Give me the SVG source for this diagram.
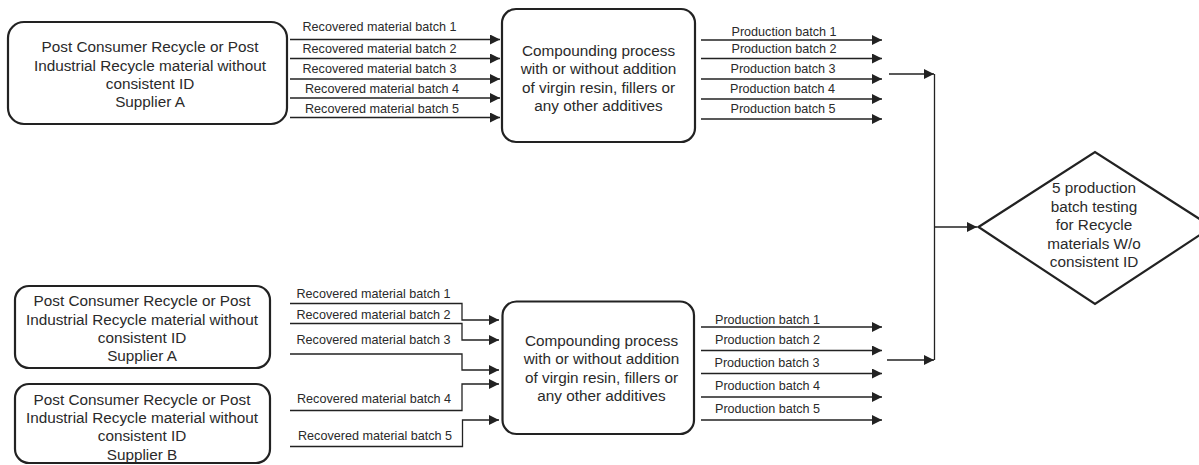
<svg xmlns="http://www.w3.org/2000/svg" width="1199" height="465" viewBox="0 0 1199 465">
<style>
.box{fill:#fff;stroke:#222;stroke-width:2.2}
.t{font-family:"Liberation Sans",Arial,sans-serif;font-size:15.3px;fill:#2a2a2a;text-anchor:middle}
.l{font-family:"Liberation Sans",Arial,sans-serif;font-size:12.6px;fill:#2a2a2a}
.c{fill:none;stroke:#222;stroke-width:1.3}
</style>
<defs>
<marker id="ah" viewBox="0 0 10 10" refX="10" refY="5" markerWidth="11" markerHeight="10" markerUnits="userSpaceOnUse" orient="auto">
<path d="M0,0 L10,5 L0,10 z" fill="#222"/>
</marker>
</defs>
<rect width="1199" height="465" fill="#fff"/>
<g id="connectors">
<line class="c" x1="290" y1="39.5" x2="500" y2="39.5" marker-end="url(#ah)"/>
<line class="c" x1="290" y1="58.5" x2="500" y2="58.5" marker-end="url(#ah)"/>
<line class="c" x1="290" y1="79" x2="500" y2="79" marker-end="url(#ah)"/>
<line class="c" x1="290" y1="98" x2="500" y2="98" marker-end="url(#ah)"/>
<line class="c" x1="290" y1="117.5" x2="500" y2="117.5" marker-end="url(#ah)"/>
<line class="c" x1="701" y1="40" x2="882" y2="40" marker-end="url(#ah)"/>
<line class="c" x1="701" y1="58.5" x2="882" y2="58.5" marker-end="url(#ah)"/>
<line class="c" x1="701" y1="79" x2="882" y2="79" marker-end="url(#ah)"/>
<line class="c" x1="701" y1="99" x2="882" y2="99" marker-end="url(#ah)"/>
<line class="c" x1="701" y1="119" x2="882" y2="119" marker-end="url(#ah)"/>
<polyline class="c" points="290,303.5 462,303.5 462,320 499,320" marker-end="url(#ah)"/>
<polyline class="c" points="290,323.5 462,323.5 462,340 499,340" marker-end="url(#ah)"/>
<polyline class="c" points="290,354 462,354 462,370 499,370" marker-end="url(#ah)"/>
<polyline class="c" points="290,410.5 462,410.5 462,384 499,384" marker-end="url(#ah)"/>
<polyline class="c" points="290,446.5 462.5,446.5 462.5,420 499,420" marker-end="url(#ah)"/>
<line class="c" x1="701" y1="327" x2="882" y2="327" marker-end="url(#ah)"/>
<line class="c" x1="701" y1="350.5" x2="882" y2="350.5" marker-end="url(#ah)"/>
<line class="c" x1="701" y1="373.5" x2="882" y2="373.5" marker-end="url(#ah)"/>
<line class="c" x1="701" y1="397" x2="882" y2="397" marker-end="url(#ah)"/>
<line class="c" x1="701" y1="420" x2="882" y2="420" marker-end="url(#ah)"/>
<line class="c" x1="889" y1="74" x2="934" y2="74" marker-end="url(#ah)"/>
<line class="c" x1="887" y1="360" x2="934" y2="360" marker-end="url(#ah)"/>
<line class="c" x1="934.5" y1="74" x2="934.5" y2="360"/>
<line class="c" x1="934.5" y1="227" x2="977" y2="227" marker-end="url(#ah)"/>
<text class="l" x="302.5" y="31">Recovered material batch 1</text>
<text class="l" x="302.5" y="52.5">Recovered material batch 2</text>
<text class="l" x="302.5" y="72.5">Recovered material batch 3</text>
<text class="l" x="305" y="92.5">Recovered material batch 4</text>
<text class="l" x="305" y="112.5">Recovered material batch 5</text>
<text class="l" x="731.5" y="35.5">Production batch 1</text>
<text class="l" x="731.5" y="52.5">Production batch 2</text>
<text class="l" x="730.5" y="73">Production batch 3</text>
<text class="l" x="730" y="93">Production batch 4</text>
<text class="l" x="730.5" y="113">Production batch 5</text>
<text class="l" x="296.5" y="298">Recovered material batch 1</text>
<text class="l" x="296.5" y="319">Recovered material batch 2</text>
<text class="l" x="296.5" y="343.5">Recovered material batch 3</text>
<text class="l" x="297" y="402.5">Recovered material batch 4</text>
<text class="l" x="298" y="439.5">Recovered material batch 5</text>
<text class="l" x="715" y="323.5">Production batch 1</text>
<text class="l" x="715" y="344">Production batch 2</text>
<text class="l" x="714.5" y="366.5">Production batch 3</text>
<text class="l" x="715" y="390">Production batch 4</text>
<text class="l" x="715" y="412.5">Production batch 5</text>
</g>
<g id="supplierA_top">
<rect class="box" x="8" y="22" width="279" height="102" rx="16"/>
<text class="t" x="150" y="51.5">Post Consumer Recycle or Post</text>
<text class="t" x="150" y="70.5">Industrial Recycle material without</text>
<text class="t" x="150" y="88.5">consistent ID</text>
<text class="t" x="150" y="107">Supplier A</text>
</g>
<g id="compound_top">
<rect class="box" x="502" y="9" width="193" height="133" rx="14"/>
<text class="t" x="598.5" y="56">Compounding process</text>
<text class="t" x="598.5" y="74">with or without addition</text>
<text class="t" x="598.5" y="93">of virgin resin, fillers or</text>
<text class="t" x="598.5" y="111">any other additives</text>
</g>
<g id="supplierA_bottom">
<rect class="box" x="15" y="286" width="255" height="82" rx="14"/>
<text class="t" x="142" y="306">Post Consumer Recycle or Post</text>
<text class="t" x="142" y="324.5">Industrial Recycle material without</text>
<text class="t" x="142" y="342.5">consistent ID</text>
<text class="t" x="142" y="361">Supplier A</text>
</g>
<g id="supplierB_bottom">
<rect class="box" x="15" y="384" width="255" height="79" rx="14"/>
<text class="t" x="142" y="404.5">Post Consumer Recycle or Post</text>
<text class="t" x="142" y="422.5">Industrial Recycle material without</text>
<text class="t" x="142" y="441">consistent ID</text>
<text class="t" x="142" y="459.5">Supplier B</text>
</g>
<g id="compound_bottom">
<rect class="box" x="502.5" y="301.5" width="191.5" height="132.5" rx="14"/>
<text class="t" x="601.5" y="346">Compounding process</text>
<text class="t" x="601.5" y="364">with or without addition</text>
<text class="t" x="601.5" y="382.5">of virgin resin, fillers or</text>
<text class="t" x="601.5" y="401">any other additives</text>
</g>
<g id="testing">
<polygon class="box" points="978.5,227 1095,152 1212,227 1095,304"/>
<text class="t" x="1094" y="193">5 production</text>
<text class="t" x="1094" y="211.5">batch testing</text>
<text class="t" x="1094" y="230">for Recycle</text>
<text class="t" x="1094" y="248.5">materials W/o</text>
<text class="t" x="1094" y="267">consistent ID</text>
</g>
</svg>
